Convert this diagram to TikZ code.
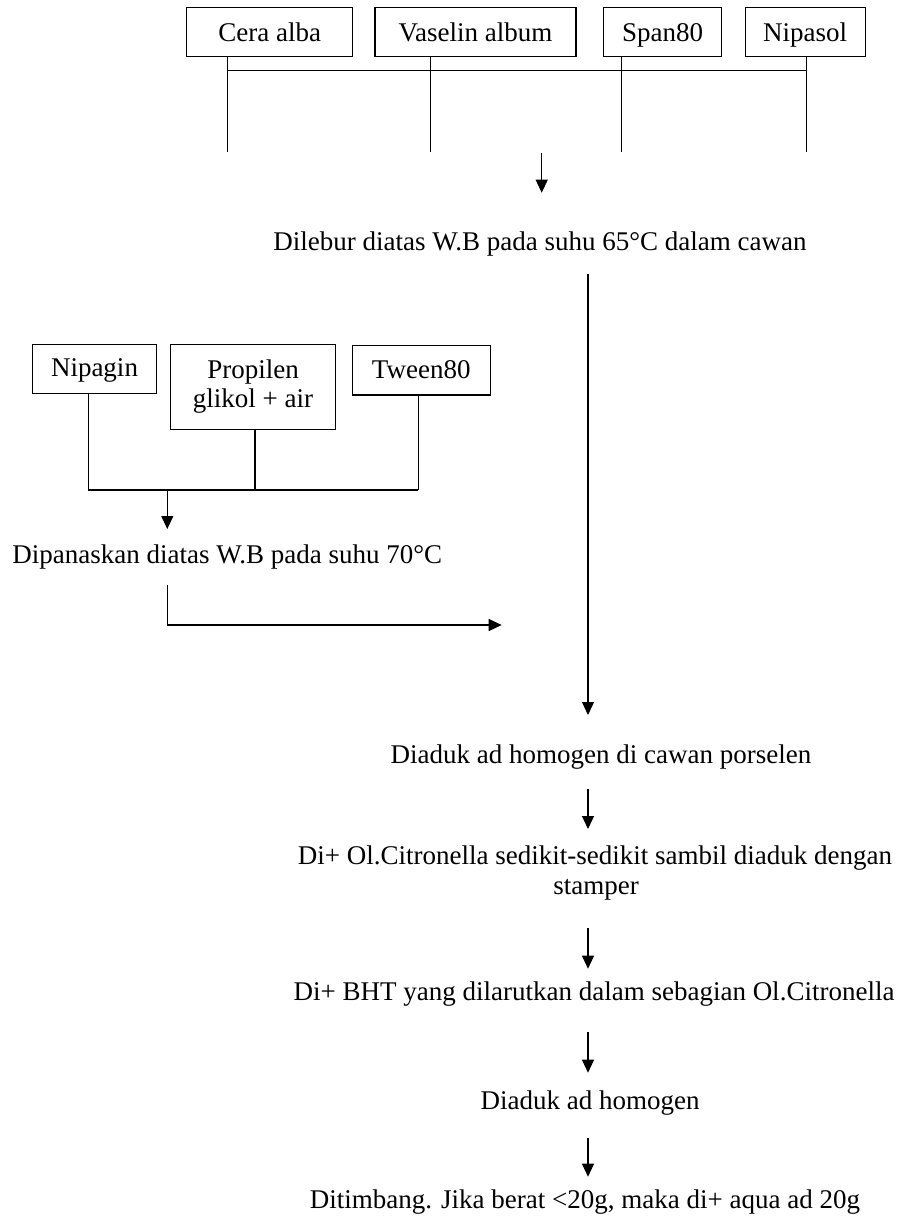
\documentclass[tikz,border=0pt]{standalone}
\usepackage{fontspec}
\setmainfont{Liberation Serif}
\usetikzlibrary{arrows.meta,calc}
\begin{document}
\begin{tikzpicture}[x=1pt,y=-1pt,
  every node/.style={font=\fontsize{27}{29.5}\selectfont},
  box/.style={draw, line width=1.1pt, inner sep=0pt, align=center},
  onebox/.style={box, text height=18pt, text depth=2pt},
  topbox/.style={box, text height=19.7pt, text depth=0.3pt, minimum height=49.4pt},
  lbl/.style={anchor=base, inner sep=0pt},
  ln/.style={line width=1.1pt},
  arr/.style={line width=1.1pt, -{Triangle[length=13pt,width=12pt]}}]

\useasboundingbox (0,0) rectangle (911,1217);

% top ingredient boxes
\node[topbox, minimum width=166pt] (cera) at (269.7,32) {Cera alba};
\node[topbox, minimum width=201pt] (vas) at (475.5,32) {Vaselin album};
\node[topbox, minimum width=118.4pt] (span) at (662.5,32) {Span80};
\node[topbox, minimum width=119.7pt] (nip) at (805.2,32) {Nipasol};

\coordinate (t1) at (227.3,151.7);
\coordinate (t2) at (430.7,151.7);
\coordinate (t3) at (621.7,151.7);
\coordinate (t4) at (806.7,151.7);
\coordinate (hl) at (227.3,70.7);
\coordinate (hr) at (806.7,70.7);
\draw[ln] (cera.south -| t1) -- (t1);
\draw[ln] (vas.south -| t2) -- (t2);
\draw[ln] (span.south -| t3) -- (t3);
\draw[ln] (nip.south -| t4) -- (t4);
\draw[ln] (hl) -- (hr);

% step texts
\node[lbl] (dilebur) at (540,250.7) {Dilebur diatas W.B pada suhu 65°C dalam cawan};
\node[lbl] (dipanaskan) at (227.2,563.3) {Dipanaskan diatas W.B pada suhu 70°C};
\node[lbl] (diaduk1) at (601,763) {Diaduk ad homogen di cawan porselen};
\node[lbl] (dio) at (595,864.5) {Di+ Ol.Citronella sedikit-sedikit sambil diaduk dengan};
\node[lbl] (dio2) at (596,894) {stamper};
\node[lbl] (bht) at (594,1000.5) {Di+ BHT yang dilarutkan dalam sebagian Ol.Citronella};
\node[lbl] (diaduk2) at (590,1109.5) {Diaduk ad homogen};
\node[lbl] (timbang) at (585,1208) {Ditimbang. Jika berat <20g, maka di+ aqua ad 20g};

% arrow under top group
\coordinate (a0) at (541.7,153);
\draw[arr] (a0) -- ([yshift=58pt]dilebur.base -| a0);

% long main line
\coordinate (ax) at (588,0);
\draw[arr] ([yshift=-23.3pt]dilebur.base -| ax) -- ([yshift=48pt]diaduk1.base -| ax);

% water phase boxes
\node[onebox, minimum width=124.4pt, minimum height=49pt] (nipagin) at (94.5,368.8) {Nipagin};
\node[box, minimum width=165.4pt, minimum height=84.7pt] (prop) at (253,386.7) {Propilen\\glikol + air};
\node[onebox, minimum width=137.7pt, minimum height=49.3pt] (tween) at (421.2,370.3) {Tween80};

\coordinate (b1) at (88.3,490);
\coordinate (b2) at (255,490);
\coordinate (b3) at (418.3,490);
\coordinate (b0) at (167.3,490);
\draw[ln] (nipagin.south -| b1) -- (b1);
\draw[ln] (prop.south -| b2) -- (b2);
\draw[ln] (tween.south -| b3) -- (b3);
\draw[ln] (b1) -- (b3);
\draw[arr] (b0) -- ([yshift=34.3pt]dipanaskan.base -| b0);

\coordinate (join) at (501.7,625);
\draw[arr] ([yshift=-21.7pt]dipanaskan.base -| b0) |- (join);

% lower chain
\draw[arr] ([yshift=-26pt]diaduk1.base -| ax) -- ([yshift=35.5pt]dio.base -| ax);
\draw[arr] ([yshift=-34pt]dio2.base -| ax) -- ([yshift=31.8pt]bht.base -| ax);
\draw[arr] ([yshift=-31.5pt]bht.base -| ax) -- ([yshift=36.8pt]diaduk2.base -| ax);
\draw[arr] ([yshift=-28.5pt]diaduk2.base -| ax) -- ([yshift=31.3pt]timbang.base -| ax);
\end{tikzpicture}
\end{document}
